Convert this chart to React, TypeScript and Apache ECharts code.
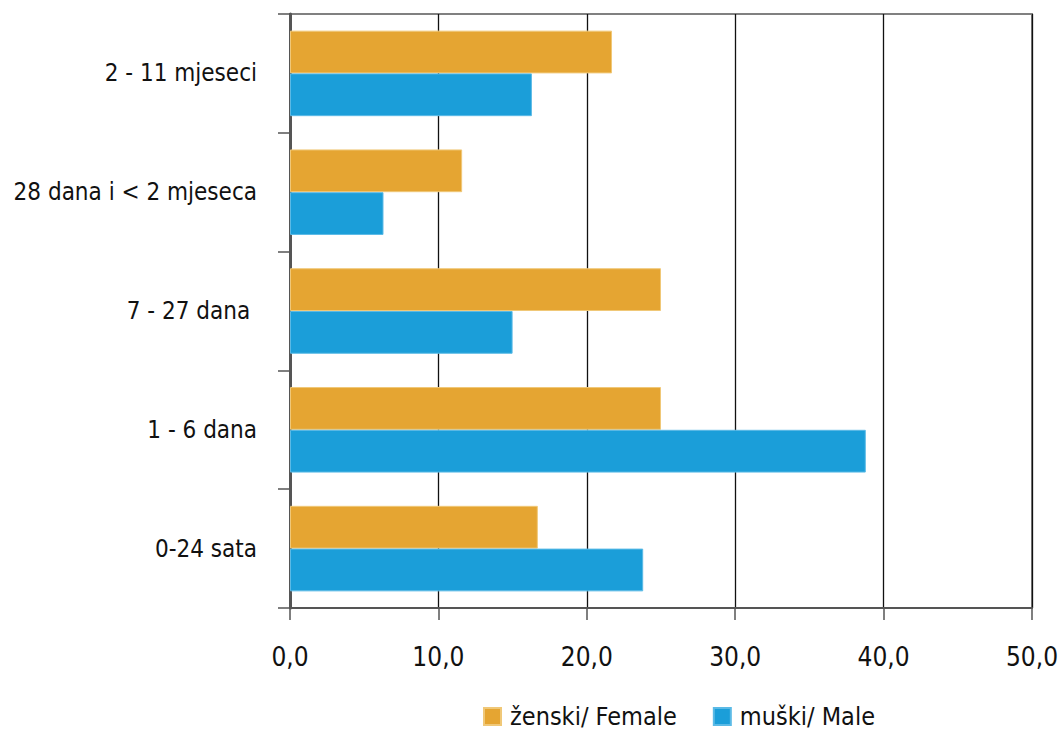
import React, { useEffect, useRef } from "react";
import * as echarts from "echarts";

const categories = ["0-24 sata", "1 - 6 dana", "7 - 27 dana ", "28 dana i < 2 mjeseca", "2 - 11 mjeseci"];
const femaleValues = [16.7, 25.0, 25.0, 11.6, 21.7];
const maleValues = [23.8, 38.8, 15.0, 6.3, 16.3];
const xTicks = [0, 10, 20, 30, 40, 50];

const FONT = "'DejaVu Sans Condensed', 'Liberation Sans Narrow', sans-serif";

export default function App() {
  const ref = useRef<HTMLDivElement>(null);
  useEffect(() => {
    const chart = echarts.init(ref.current!, null, { renderer: "svg" });
    chart.setOption({
      animation: false,
      textStyle: { fontFamily: FONT },
      grid: { left: 290, right: 32, top: 14, bottom: 130, show: true, borderColor: "#808080", borderWidth: 2 },
      legend: {
        bottom: 4,
        left: 478,
        itemWidth: 17,
        itemHeight: 17,
        itemGap: 36,
        icon: "rect",
        data: ["ženski/ Female", "muški/ Male"],
        textStyle: { fontFamily: FONT, fontSize: 25, color: "#111", padding: [0, 0, 0, 4] },
      },
      xAxis: {
        type: "value",
        min: xTicks[0],
        max: xTicks[xTicks.length - 1],
        interval: 10,
        axisLine: { show: true, lineStyle: { color: "#555", width: 2 } },
        axisTick: { show: true, length: 12, lineStyle: { color: "#555", width: 1.5 } },
        axisLabel: {
          fontFamily: FONT,
          fontSize: 26,
          color: "#111",
          margin: 36,
          formatter: (v: number) => v.toFixed(1).replace(".", ","),
        },
        splitLine: { show: true, lineStyle: { color: "#111", width: 1.3 } },
      },
      yAxis: {
        type: "category",
        data: categories,
        axisLine: { show: true, onZero: false, lineStyle: { color: "#555", width: 3 } },
        axisTick: { show: true, length: 12, lineStyle: { color: "#555", width: 1.5 } },
        axisLabel: { fontFamily: FONT, fontSize: 24, color: "#111", margin: 33 },
      },
      series: [
        {
          name: "ženski/ Female",
          type: "bar",
          data: femaleValues,
          barGap: "0%",
          barCategoryGap: "28%",
          itemStyle: { color: "#E5A532", borderColor: "#F0C878", borderWidth: 1 },
        },
        {
          name: "muški/ Male",
          type: "bar",
          data: maleValues,
          barGap: "0%",
          barCategoryGap: "28%",
          itemStyle: { color: "#1B9ED9", borderColor: "#5BBAE6", borderWidth: 1 },
        },
      ],
    });
    return () => chart.dispose();
  }, []);
  return <div ref={ref} style={{ width: 1064, height: 738, position: "absolute", left: 0, top: 0 }} />;
}
